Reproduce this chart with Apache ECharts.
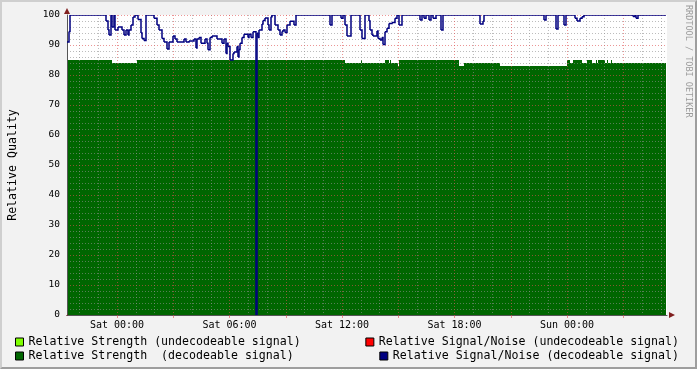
<!DOCTYPE html>
<html><head><meta charset="utf-8">
<script src="https://cdn.jsdelivr.net/npm/echarts@6/dist/echarts.min.js"></script>
<style>
html,body{margin:0;padding:0;background:#f2f2f2;}
#wrap{position:relative;width:697px;height:369px;}
#c{width:697px;height:369px;}
#frame{position:absolute;left:0;top:0;width:697px;height:369px;box-sizing:border-box;border-top:2px solid #cfcfcf;border-left:2px solid #cfcfcf;border-right:2px solid #9e9e9e;border-bottom:2px solid #9e9e9e;pointer-events:none;}
</style></head><body>
<div id="wrap"><div id="c"></div><div id="frame"></div></div>
<script>
// ---- data (RRD samples, 192 s step, starting Fri 21:20 = -8/3 h from Sat 00:00) ----
const STEP_S = 192;
const START_H = -8 / 3;
const END_IDX = 599;

// Relative Signal/Noise (decodeable): sample index where value changes, value
const snIdx = [0,2,3,39,41,42,44,45,47,48,51,55,57,59,61,62,64,66,68,71,74,75,77,79,87,90,92,95,97,100,102,106,108,110,117,119,122,127,129,130,132,134,138,140,141,143,145,150,155,157,159,160,161,163,166,167,170,171,172,173,175,177,181,182,184,186,189,190,191,192,195,196,198,201,202,204,205,208,211,213,215,216,218,220,223,227,229,263,265,274,276,278,280,284,293,295,298,302,303,305,306,310,311,313,315,316,318,320,322,325,328,330,332,335,353,355,357,359,362,364,366,369,374,376,413,416,417,477,479,489,491,497,499,508,510,513,515,517,566,568,569,571];
const snVal = [91,94.5,100,98,95,93.3,100,96,100,95,96,95,93.3,95,93.3,95,96.7,99.3,100,98.5,94,92.2,91.5,100,98.9,96.7,95,92.2,91,88.7,91,93,92,91,92,91,91.3,92,89,92,92.5,90.6,92,90.6,88.4,92.5,93,92,90.6,92,87.2,90.6,89.5,85,87.2,87.7,89.5,86,88.5,90.6,92.5,93.6,92.5,93.6,92.5,94.4,0,93.9,92.5,95,97,98.2,99,96.7,95,99.4,100,96.7,95,93.3,94.5,95,94.2,96.7,97.9,96.7,100,96.7,100,98.9,100,96.7,93,100,95,92.2,100,98,95,93.3,93,94.7,92.2,91.7,92.5,90.2,94.4,95.6,97.2,97.5,98.9,100,96.7,100,98.3,100,98.9,100,98.3,100,98.9,100,95,100,97,98,100,98.3,100,95.3,100,96.7,100,98.9,98,98.9,99.4,100,99.5,100,98.9,100];

// Relative Strength (decodeable)
const stIdx = [0,45,70,278,294,295,318,322,323,324,331,332,392,397,433,500,503,506,515,520,525,529,530,531,538,540,541,544,545];
const stVal = [85,84,85,84,85,84,85,84,85,84,83,85,83,84,83,85,84,85,84,85,84,85,84,85,84,85,84,85,84];

// undecodeable series: no samples visible
const stUndecIdx = [];
const stUndecVal = [];
const snUndecIdx = [];
const snUndecVal = [];

// axis ticks
const xLabelHours = [0, 6, 12, 18, 24];
const xLabels = ['Sat 00:00', 'Sat 06:00', 'Sat 12:00', 'Sat 18:00', 'Sun 00:00'];
const xMajorHours = [0, 3, 6, 9, 12, 15, 18, 21, 24, 27];
const xMinorHours = [-2, -1, 1, 2, 4, 5, 7, 8, 10, 11, 13, 14, 16, 17, 19, 20, 22, 23, 25, 26, 28, 29];
const yMinor = [2,4,6,8,12,14,16,18,22,24,26,28,32,34,36,38,42,44,46,48,52,54,56,58,62,64,66,68,72,74,76,78,82,84,86,88,92,94,96,98];

const NAMES = [
  'Relative Strength (undecodeable signal)',
  'Relative Strength  (decodeable signal)',
  'Relative Signal/Noise (undecodeable signal)',
  'Relative Signal/Noise (decodeable signal)'
];
const COLORS = ['#7fff00', '#006600', '#ff0000', '#000080'];

function tH(i) { return START_H + i * STEP_S / 3600; }
// each run: [tStart, tEnd, value, nextValue]
function runs(idx, val) {
  return idx.map((k, i) => {
    const last = i + 1 >= idx.length;
    return [tH(k), tH(last ? END_IDX : idx[i + 1]), val[i], last ? val[i] : val[i + 1]];
  });
}

const XMIN = START_H, XMAX = START_H + 600 * STEP_S / 3600;
const FONT = 'DejaVu Sans Mono';
const GRIDC = 'rgba(143,143,143,0.6)';
const MGRIDC = 'rgba(222,79,79,0.6)';
const ARROW = '#801f1f';
const AXISC = '#555555';

function areaSeries(k, idx, val) {
  const color = COLORS[k];
  return { name: NAMES[k], type: 'custom', data: runs(idx, val), clip: true, z: 1,
    itemStyle: {color}, encode: {x: [0, 1], y: 2},
    renderItem: (p, api) => {
      const a = api.coord([api.value(0), api.value(2)]);
      const b = api.coord([api.value(1), 0]);
      return {type: 'rect', silent: true, shape: {x: a[0], y: a[1], width: b[0] - a[0], height: b[1] - a[1]},
        style: {fill: color}};
    } };
}
function lineSeries(k, idx, val) {
  const color = COLORS[k];
  return { name: NAMES[k], type: 'custom', data: runs(idx, val), clip: true, z: 5,
    itemStyle: {color}, encode: {x: [0, 1], y: [2, 3]},
    renderItem: (p, api) => {
      const a = api.coord([api.value(0), api.value(2)]);
      const b = api.coord([api.value(1), api.value(2)]);
      const c = api.coord([api.value(1), api.value(3)]);
      return {type: 'polyline', silent: true, shape: {points: [a, b, c]},
        style: {stroke: color, lineWidth: 1.5, fill: null}};
    } };
}

const chart = echarts.init(document.getElementById('c'), null, {renderer: 'canvas'});
const hidden = {axisLine:{show:false}, axisLabel:{show:false}};
chart.setOption({
  animation: false,
  backgroundColor: 'transparent',
  grid: {left: 67, right: 30, top: 15, bottom: 54, show: true, backgroundColor: '#ffffff', borderWidth: 0,
         containLabel: false, outerBoundsMode: 'none'},
  xAxis: [
    { type: 'value', min: XMIN, max: XMAX, z: 4, position: 'bottom',
      axisLine: {show: true, onZero: false, lineStyle: {color: AXISC, width: 1}},
      axisTick: {show: true, customValues: xMajorHours, length: 3, lineStyle: {color: MGRIDC}},
      axisLabel: {show: true, customValues: xLabelHours, margin: 5, color: '#000', fontFamily: FONT, fontSize: 10,
        formatter: v => { const k = xLabelHours.indexOf(Math.round(v)); return k >= 0 ? xLabels[k] : ''; }},
      splitLine: {show: false} },
    { type: 'value', min: XMIN, max: XMAX, z: 3, position: 'bottom', ...hidden,
      axisTick: {show: false, customValues: xMinorHours},
      splitLine: {show: true, lineStyle: {color: GRIDC, width: 1, type: [1, 2]}} },
    { type: 'value', min: XMIN, max: XMAX, z: 3, position: 'bottom', ...hidden,
      axisTick: {show: false, customValues: xMajorHours},
      splitLine: {show: true, lineStyle: {color: MGRIDC, width: 1, type: [1, 2]}} },
    { type: 'value', min: XMIN, max: XMAX, z: 4, position: 'bottom', axisLabel: {show: false}, axisTick: {show: false}, splitLine: {show: false},
      axisLine: {show: true, onZero: false, symbol: ['none', 'triangle'], symbolSize: [6, 6], symbolOffset: [0, 5],
        lineStyle: {color: ARROW, width: 1, type: [0, 3000]}} }
  ],
  yAxis: [
    { type: 'value', min: 0, max: 100, interval: 10, z: 4, position: 'left',
      name: 'Relative Quality', nameLocation: 'middle', nameGap: 48.5, nameRotate: 90,
      nameTextStyle: {fontFamily: FONT, fontSize: 11.6, color: '#000'},
      axisLine: {show: true, onZero: false, lineStyle: {color: AXISC, width: 1}},
      axisTick: {show: false},
      axisLabel: {margin: 7, color: '#000', fontFamily: FONT, fontSize: 9.5},
      splitLine: {show: true, lineStyle: {color: MGRIDC, width: 1, type: [1, 2]}} },
    { type: 'value', min: 0, max: 100, z: 3, ...hidden, position: 'left',
      axisTick: {show: false, customValues: yMinor},
      splitLine: {show: true, lineStyle: {color: GRIDC, width: 1, type: [1, 2]}} },
    { type: 'value', min: 0, max: 100, z: 4, position: 'left', axisLabel: {show: false}, axisTick: {show: false}, splitLine: {show: false},
      axisLine: {show: true, onZero: false, symbol: ['none', 'triangle'], symbolSize: [6, 6], symbolOffset: [0, 4],
        lineStyle: {color: ARROW, width: 1, type: [0, 3000]}} }
  ],
  legend: [0, 1, 2, 3].map(k => ({
    data: [NAMES[k]], orient: 'horizontal', padding: 0,
    top: k % 2 === 0 ? 336 : 350,
    ...(k < 2 ? {left: 15} : {right: 18}),
    icon: 'rect', itemWidth: 8, itemHeight: 8,
    itemStyle: {color: COLORS[k], borderColor: '#000', borderWidth: 1},
    textStyle: {fontFamily: FONT, fontSize: 11.6, color: '#000'},
    selectedMode: false
  })),
  series: [
    areaSeries(0, stUndecIdx, stUndecVal),
    areaSeries(1, stIdx, stVal),
    lineSeries(2, snUndecIdx, snUndecVal),
    lineSeries(3, snIdx, snVal)
  ],
  graphic: [{
    type: 'text', x: 688, y: 5, rotation: -Math.PI / 2,
    style: {text: 'RRDTOOL / TOBI OETIKER', fontFamily: FONT, fontSize: 8.5, fill: '#9c9c9c', align: 'left', verticalAlign: 'middle'}
  }]
});
</script></body></html>
